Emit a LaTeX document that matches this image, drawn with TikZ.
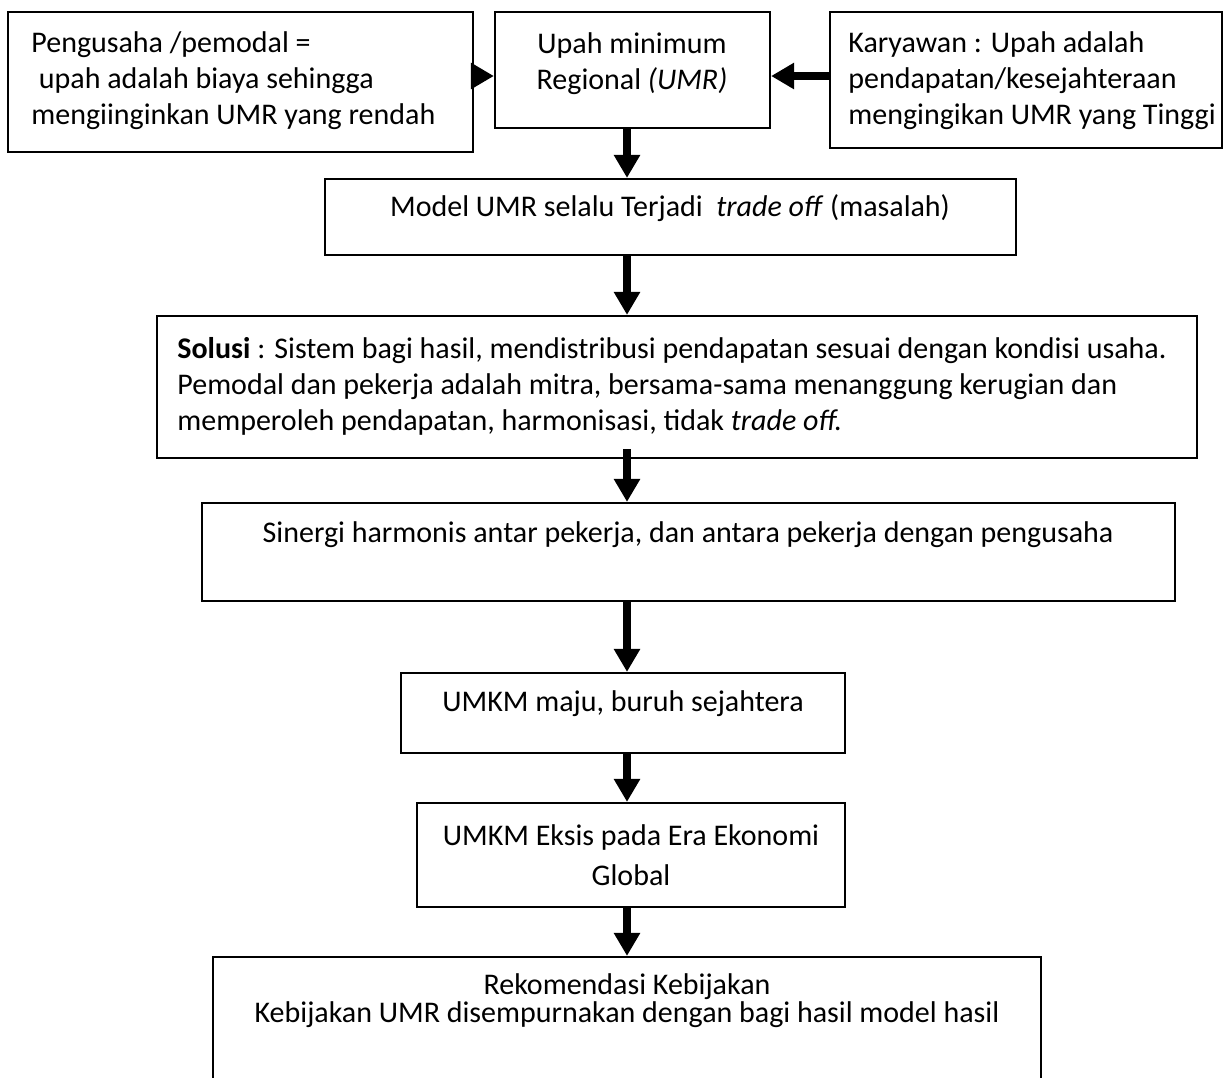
\documentclass[tikz,border=0pt]{standalone}
\usepackage{fontspec}
\setmainfont{Carlito}
\usetikzlibrary{arrows.meta}

\tikzset{
  box/.style={draw, line width=1.1pt, inner sep=0pt},
  flow/.style={line width=4pt, -{Triangle[length=11.5pt,width=12.5pt]}},
  txt/.style={inner sep=0pt, font=\fontsize{15}{14}\selectfont},
  widetxt/.style={inner sep=0pt, font=\fontsize{15}{18}\selectfont},
}

\begin{document}
\begin{tikzpicture}[x=0.5pt,y=-0.5pt]
    \clip (0,0) rectangle (1224,1077);
    % --- TOP ROW ---
    \node[box, minimum width=232.5pt, minimum height=70pt] (pengusaha) at (240.5,82) {};
    \node[box, minimum width=137.5pt, minimum height=58pt] (umr) at (632.5,70) {};
    \node[box, minimum width=196pt, minimum height=68pt] (karyawan) at (1026,80) {};
    \node[widetxt, anchor=west, align=left] (pengusahaTxt) at (31,81)
        {Pengusaha /pemodal =\\\hspace{0.25em}upah adalah biaya sehingga\\mengiinginkan UMR yang rendah};
    \node[widetxt, align=center] (umrTxt) at (632,63.5) {Upah minimum\\Regional \textit{(UMR)}};
    \node[widetxt, anchor=west, align=left] (karyawanTxt) at (848,81)
        {Karyawan : Upah adalah\\pendapatan/kesejahteraan\\mengingikan UMR yang Tinggi};
    \coordinate (row) at (0,76);
    \coordinate (spine) at (627,0);
    \draw[flow] (pengusaha.east |- row) -- (umr.west |- row);
    \draw[flow] (karyawan.west |- row) -- (umr.east |- row);

    % --- MIDDLE ---
    \node[box, minimum width=345.5pt, minimum height=38pt] (model) at (670.5,217) {};
    \node[txt] (modelTxt) at (670,208) {Model UMR selalu Terjadi\ \ \textit{trade off} (masalah)};
    \node[box, minimum width=520pt, minimum height=71pt] (solusi) at (677,387) {};
    \node[widetxt, anchor=west, align=left] (solusiTxt) at (177,386)
        {\textbf{Solusi} : Sistem bagi hasil, mendistribusi pendapatan sesuai dengan kondisi usaha.\\
         Pemodal dan pekerja adalah mitra, bersama-sama menanggung kerugian dan\\
         memperoleh pendapatan, harmonisasi, tidak \textit{trade off.}};
    \node[box, minimum width=486.5pt, minimum height=49pt] (sinergi) at (688.5,552) {};
    \node[txt] (sinergiTxt) at (688,535) {Sinergi harmonis antar pekerja, dan antara pekerja dengan pengusaha};
    \draw[flow] (umr.south -| spine) -- (model.north -| spine);
    \draw[flow] (model.south -| spine) -- (solusi.north -| spine);
    \draw[flow] ([yshift=5pt]solusi.south -| spine) -- (sinergi.north -| spine);

    % --- BOTTOM ---
    \node[box, minimum width=222pt, minimum height=40pt] (maju) at (623,713) {};
    \node[txt] (majuTxt) at (623,704) {UMKM maju, buruh sejahtera};
    \node[box, minimum width=214pt, minimum height=52pt] (eksis) at (631,855) {};
    \node[txt, align=center, font=\fontsize{15}{20}\selectfont] (eksisTxt) at (631,855)
        {UMKM Eksis pada Era Ekonomi\\Global};
    \node[box, minimum width=414pt, minimum height=83pt] (rekom) at (627,1040) {};
    \node[txt, align=center] (rekomTxt) at (627,1001)
        {Rekomendasi Kebijakan\\Kebijakan UMR disempurnakan dengan bagi hasil model hasil};
    \draw[flow] (sinergi.south -| spine) -- (maju.north -| spine);
    \draw[flow] (maju.south -| spine) -- (eksis.north -| spine);
    \draw[flow] (eksis.south -| spine) -- (rekom.north -| spine);
\end{tikzpicture}
\end{document}
